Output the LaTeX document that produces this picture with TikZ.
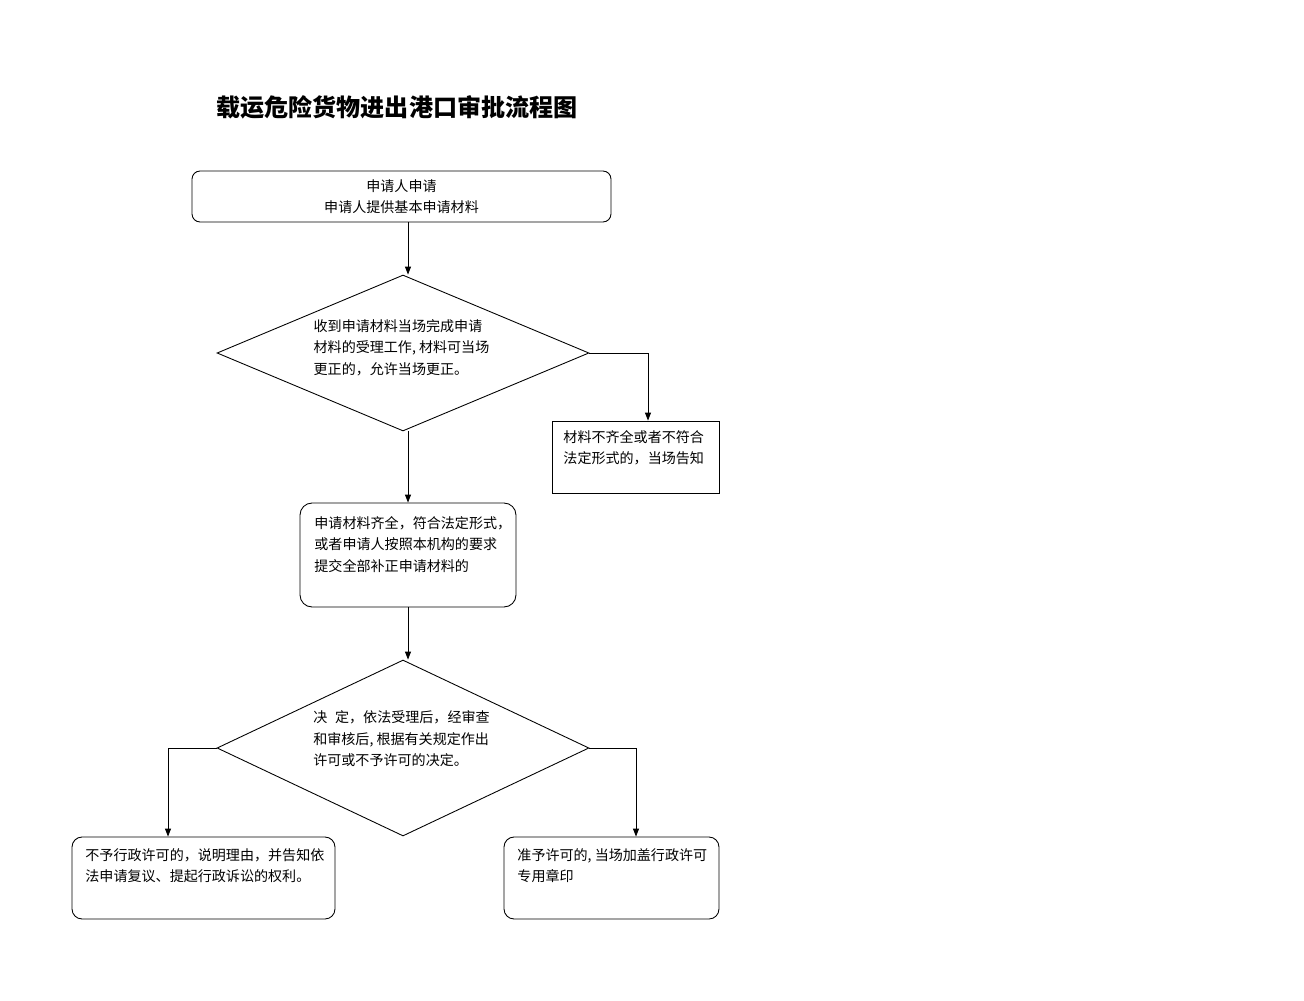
\documentclass[tikz,border=0pt]{standalone}
\usepackage{fontspec}
\setmainfont{Noto Sans CJK SC}
\usetikzlibrary{shapes.geometric,arrows.meta}
\newcommand{\hcomma}{\makebox[0.5em][l]{,}}
\begin{document}
\begin{tikzpicture}[x=0.02cm,y=-0.02cm,
  font=\fontsize{8}{12.2}\selectfont, line width=0.5pt,
  >={Triangle[length=1.6mm,width=1.2mm]},
  rbox/.style={draw, rounded corners=#1, inner sep=0pt},
  sbox/.style={draw, inner sep=0pt},
  dia/.style={draw, diamond, aspect=2.4, inner sep=0pt, minimum width=7.44cm},
  txt/.style={anchor=north west, inner sep=0pt, align=left}]
\useasboundingbox (0,0) rectangle (1304,1000);
\node[font=\fontsize{13.7}{16}\selectfont\bfseries] (title) at (397,107) {载运危险货物进出港口审批流程图};
\node[rbox=0.16cm, minimum width=8.38cm, minimum height=1.02cm, align=center] (apply) at (401.5,196.5) {申请人申请\\申请人提供基本申请材料};
\node[dia, minimum height=3.12cm] (check) at (403,353) {};
\node[align=left, inner sep=0pt] (checktxt) at (401.5,347.5) {收到申请材料当场完成申请\\材料的受理工作\hcomma 材料可当场\\更正的，允许当场更正。};
\node[sbox, minimum width=3.34cm, minimum height=1.44cm] (notify) at (635.5,457) {};
\node[txt] (notifytxt) at (563,430) {材料不齐全或者不符合\\法定形式的，当场告知};
\node[rbox=0.24cm, minimum width=4.32cm, minimum height=2.08cm] (complete) at (408,555) {};
\node[txt] (completetxt) at (314,516) {申请材料齐全，符合法定形式，\\或者申请人按照本机构的要求\\提交全部补正申请材料的};
\node[dia, minimum height=3.52cm] (decide) at (403,748) {};
\node[align=left, inner sep=0pt] (decidetxt) at (401.5,739) {决\hspace{0.55em}定，依法受理后，经审查\\和审核后\hcomma 根据有关规定作出\\许可或不予许可的决定。};
\node[rbox=0.2cm, minimum width=5.26cm, minimum height=1.64cm] (deny) at (203.5,878) {};
\node[txt] (denytxt) at (85,848) {不予行政许可的，说明理由，并告知依\\法申请复议、提起行政诉讼的权利。};
\node[rbox=0.2cm, minimum width=4.3cm, minimum height=1.64cm] (grant) at (611.5,878) {};
\node[txt] (granttxt) at (517,848) {准予许可的\hcomma 当场加盖行政许可\\专用章印};
\draw[->] (apply.south -| complete.north) -- (check.north -| complete.north);
\draw[->] (check.east) -| ([xshift=0.25cm]notify.north);
\draw[->] (check.south -| complete.north) -- (complete.north);
\draw[->] (complete.south) -- (decide.north -| complete.south);
\draw[->] (decide.west) -| ([xshift=-0.71cm]deny.north);
\draw[->] (decide.east) -| ([xshift=0.49cm]grant.north);
\end{tikzpicture}
\end{document}
